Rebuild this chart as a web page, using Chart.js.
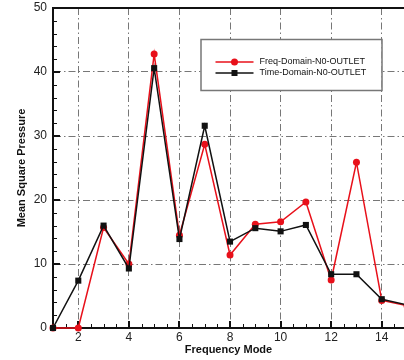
<!DOCTYPE html>
<html><head><meta charset="utf-8">
<script src="https://cdn.jsdelivr.net/npm/chart.js@4"></script>
<style>html,body{margin:0;padding:0;background:#fff}canvas{display:block}</style>
</head><body>
<canvas id="c" width="404" height="360"></canvas>
<script>
const modes = [1,2,3,4,5,6,7,8,9,10,11,12,13,14,15];
const freqDomain = [0,0,15.7,10.0,42.8,14.5,28.7,11.4,16.2,16.6,19.7,7.5,25.9,4.3,3.5];
const timeDomain = [0,7.4,16.0,9.3,40.6,13.9,31.6,13.5,15.6,15.1,16.1,8.4,8.4,4.5,3.6];
const seriesNames = ['Freq-Domain-N0-OUTLET','Time-Domain-N0-OUTLET'];
const xTickValues = [2,4,6,8,10,12,14];
const yTickValues = [0,10,20,30,40,50];
const xTitle = 'Frequency Mode';
const yTitle = 'Mean Square Pressure';

const FONT = '"Liberation Sans", Arial, Helvetica, sans-serif';
const RED = '#e8101a', BLACK = '#111111';

const decor = {
  id: 'decor',
  beforeDatasetsDraw(chart) {
    const {ctx, chartArea: a, scales: {x, y}} = chart;
    ctx.save();
    ctx.strokeStyle = '#111';
    for (let v = y.min; v <= y.max; v += 2) {
      if (v === y.min || v === y.max) continue;
      const major = v % 10 === 0;
      const py = Math.round(y.getPixelForValue(v)) + (major ? 0 : 0.5);
      ctx.lineWidth = major ? 2 : 1;
      ctx.beginPath(); ctx.moveTo(a.left, py); ctx.lineTo(a.left + (major ? 7 : 4), py); ctx.stroke();
    }
    for (let v = 1.5; v <= x.max; v += 0.5) {
      const major = v % 2 === 0;
      const px = Math.round(x.getPixelForValue(v)) + (major ? 0 : 0.5);
      ctx.lineWidth = major ? 2 : 1;
      ctx.beginPath(); ctx.moveTo(px, a.bottom); ctx.lineTo(px, a.bottom - (major ? 7 : 4)); ctx.stroke();
    }
    ctx.lineWidth = 2;
    ctx.beginPath(); ctx.moveTo(a.left - 1, a.top); ctx.lineTo(a.right, a.top); ctx.stroke();
    ctx.restore();
  },
  afterDraw(chart) {
    const {ctx, chartArea: a} = chart;
    const bx = a.left + 147.5, by = a.top + 31, bw = 181, bh = 51;
    ctx.save();
    ctx.fillStyle = '#fff';
    ctx.fillRect(bx, by, bw, bh);
    ctx.strokeStyle = '#777'; ctx.lineWidth = 1.5;
    ctx.strokeRect(bx + 0.5, by + 0.5, bw, bh);
    chart.data.datasets.forEach((ds, i) => {
      const yy = by + 23 + i * 11;
      const x0 = bx + 15, x1 = bx + 53, xm = (x0 + x1) / 2;
      ctx.strokeStyle = ds.borderColor; ctx.lineWidth = 1.5;
      ctx.beginPath(); ctx.moveTo(x0, yy); ctx.lineTo(x1, yy); ctx.stroke();
      ctx.fillStyle = ds.backgroundColor;
      if (ds.pointStyle === 'rect') {
        ctx.fillRect(xm - 3, yy - 3, 6, 6);
      } else {
        ctx.beginPath(); ctx.arc(xm, yy, 3.5, 0, Math.PI * 2); ctx.fill();
      }
      ctx.fillStyle = '#111';
      ctx.font = '9px ' + FONT;
      ctx.textBaseline = 'middle'; ctx.textAlign = 'left';
      ctx.fillText(ds.label, bx + 59, yy);
    });
    ctx.restore();
  }
};

const gridDash = [7, 3, 1.5, 3];
const clipRight = {left: false, top: false, right: 0, bottom: false};

new Chart(document.getElementById('c'), {
  type: 'line',
  data: {
    datasets: [
      {
        label: seriesNames[0],
        data: modes.map((m, i) => ({x: m, y: freqDomain[i]})),
        borderColor: RED, backgroundColor: RED,
        borderWidth: 1.5, pointRadius: 3.5, pointStyle: 'circle',
        pointBorderWidth: 0, tension: 0, order: 2, clip: clipRight
      },
      {
        label: seriesNames[1],
        data: modes.map((m, i) => ({x: m, y: timeDomain[i]})),
        borderColor: BLACK, backgroundColor: BLACK,
        borderWidth: 1.5, pointRadius: 4.3, pointStyle: 'rect',
        pointBorderWidth: 0, tension: 0, order: 1, clip: clipRight
      }
    ]
  },
  options: {
    responsive: false,
    animation: false,
    layout: {autoPadding: false, padding: {top: 8, right: 0, left: 0, bottom: 0}},
    plugins: {legend: {display: false}, tooltip: {enabled: false}},
    scales: {
      x: {
        type: 'linear', min: 1, max: 14.88,
        afterBuildTicks: s => { s.ticks = xTickValues.map(v => ({value: v})); },
        afterFit: s => { s.height = 32; s.paddingRight = 0; s.paddingLeft = 0; },
        ticks: {
          callback: v => String(v),
          font: {family: FONT, size: 12}, color: '#222', padding: 2, maxRotation: 0, autoSkip: false
        },
        grid: {color: '#777', lineWidth: 1, drawTicks: false},
        border: {color: '#111', width: 2, dash: gridDash},
        title: {display: true, text: xTitle, font: {family: FONT, size: 11, weight: 'bold'}, color: '#111', padding: {top: 0, bottom: 3}}
      },
      y: {
        type: 'linear', min: 0, max: 50,
        afterBuildTicks: s => { s.ticks = yTickValues.map(v => ({value: v})); },
        afterFit: s => { s.width = 53; s.paddingTop = 0; s.paddingBottom = 0; },
        ticks: {
          callback: v => String(v),
          font: {family: FONT, size: 12}, color: '#222', padding: 6
        },
        grid: {
          color: c => (c.tick && (c.tick.value === 0 || c.tick.value === 50)) ? 'rgba(0,0,0,0)' : '#777',
          lineWidth: 1, drawTicks: false
        },
        border: {color: '#111', width: 2, dash: gridDash},
        title: {display: true, text: yTitle, font: {family: FONT, size: 11, weight: 'bold'}, color: '#111', padding: {top: 15, bottom: 0}}
      }
    }
  },
  plugins: [decor]
});
</script>
</body></html>
